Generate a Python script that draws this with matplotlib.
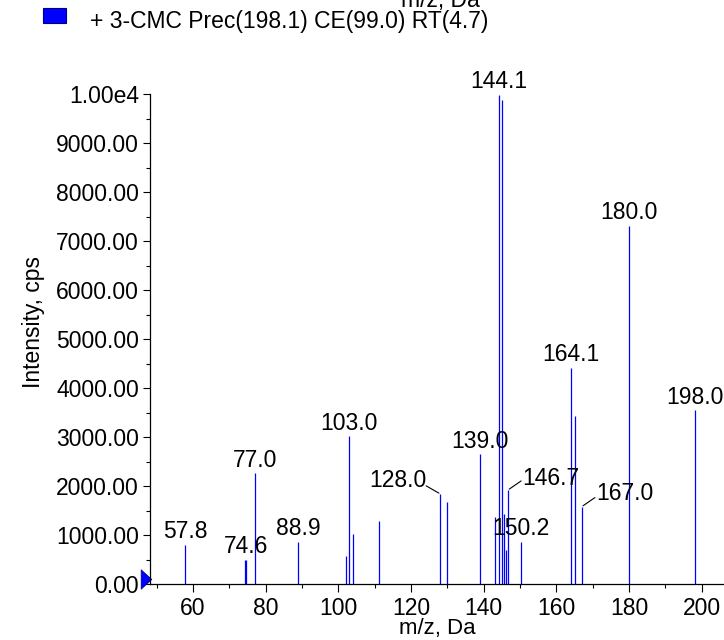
import matplotlib
matplotlib.use("Agg")
import matplotlib.pyplot as plt
from matplotlib.ticker import FixedLocator
from matplotlib.patches import Rectangle
import matplotlib.transforms as mtrans

plt.rcParams['font.family'] = ['Liberation Sans', 'DejaVu Sans']

# peak list (m/z, intensity)
mz = [57.8, 74.3, 74.6, 77.0, 88.9, 102.0, 103.0, 104.0, 111.1, 128.0, 130.0,
      139.0, 143.1, 144.1, 145.1, 145.6, 146.2, 146.7, 150.2, 164.1, 165.1,
      167.0, 180.0, 198.0]
intensity = [800, 490, 500, 2260, 860, 580, 3020, 1020, 1290, 1840, 1670,
             2650, 1370, 9980, 9880, 1430, 690, 1920, 860, 4410, 3420,
             1580, 7310, 3550]

# labelled peaks: m/z, label text
plain_labels = [(57.8, "57.8"), (74.6, "74.6"), (77.0, "77.0"), (88.9, "88.9"),
                (103.0, "103.0"), (139.0, "139.0"), (144.1, "144.1"),
                (150.2, "150.2"), (164.1, "164.1"), (180.0, "180.0"),
                (198.0, "198.0")]
leader_labels = [(128.0, "128.0"), (146.7, "146.7"), (167.0, "167.0")]

yticks = [0, 1000, 2000, 3000, 4000, 5000, 6000, 7000, 8000, 9000, 10000]
ytick_labels = ["0.00", "1000.00", "2000.00", "3000.00", "4000.00", "5000.00",
                "6000.00", "7000.00", "8000.00", "9000.00", "1.00e4"]
yminor = [500, 1500, 2500, 3500, 4500, 5500, 6500, 7500, 8500, 9500]
xticks = [60, 80, 100, 120, 140, 160, 180, 200]
xminor = [50, 70, 90, 110, 130, 150, 170, 190]

legend_text = "+ 3-CMC Prec(198.1) CE(99.0) RT(4.7)"

W, H = 724, 640
fig = plt.figure(figsize=(W / 100, H / 100), dpi=100)
ax = fig.add_axes([150 / W, (H - 584) / H, (W - 150) / W, (584 - 60) / H])

FS = 16.5
ax.vlines(mz, 0, intensity, color='#0000ff', lw=0.9)

ax.set_xlim(48.17, 206.1)
ax.set_ylim(0, 10694)

ax.spines['top'].set_visible(False)
ax.spines['right'].set_visible(False)
ax.spines['left'].set_bounds(0, 10000)
for s in ('left', 'bottom'):
    ax.spines[s].set_linewidth(0.9)

ax.set_yticks(yticks)
ax.set_yticklabels(ytick_labels)
ax.yaxis.set_minor_locator(FixedLocator(yminor))
ax.set_xticks(xticks)
ax.xaxis.set_minor_locator(FixedLocator(xminor))
ax.tick_params(axis='y', which='major', length=5, width=0.8, labelsize=FS, pad=3)
ax.tick_params(axis='x', which='major', length=5.5, width=0.8, labelsize=FS, pad=4)
ax.tick_params(axis='both', which='minor', length=3, width=0.8)

ax.set_xlabel("m/z, Da", fontsize=FS - 0.5, labelpad=-1.5)
ax.set_ylabel("Intensity, cps", fontsize=FS, labelpad=8)

def peak_height(m):
    return intensity[mz.index(m)]

for m, t in plain_labels:
    ax.annotate(t, xy=(m, peak_height(m)), xytext=(0, 13), textcoords='offset pixels',
                ha='center', va='center', fontsize=FS, annotation_clip=False)

leader_offsets = {128.0: ((-42, 13), (-14, 8)),
                  146.7: ((43, 11), (13, 9)),
                  167.0: ((43, 13), (13, 9))}
for m, t in leader_labels:
    (tx, ty), (lx, ly) = leader_offsets[m]
    y = peak_height(m)
    ax.annotate(t, xy=(m, y), xytext=(tx, ty), textcoords='offset pixels',
                ha='center', va='center', fontsize=FS, annotation_clip=False)
    ax.annotate('', xy=(m, y), xytext=(lx, ly), textcoords='offset pixels',
                arrowprops=dict(arrowstyle='-', lw=0.8, color='black',
                                shrinkA=0, shrinkB=1), annotation_clip=False)

# blue triangle marker at the origin of the y axis
trans = mtrans.blended_transform_factory(ax.transAxes, ax.transData)
tri = [(-0.55, -1.0), (0.55, 0.0), (-0.55, 1.0), (-0.55, -1.0)]
ax.plot([-4.5 / 574], [112], marker=tri, markersize=14, color='#0000ff',
        transform=trans, clip_on=False, markeredgecolor='#00007f',
        markeredgewidth=0.5)

# legend
fig.patches.append(Rectangle((43 / W, 1 - 23.3 / H), 23 / W, 15 / H,
                             transform=fig.transFigure, facecolor='#0000ff',
                             edgecolor='#000080', lw=0.8))
fig.text(90 / W, 1 - 28 / H, legend_text, ha='left', va='baseline', fontsize=FS)

# clipped label of a panel above
fig.text(440 / W, 1 - 7 / H, "m/z, Da", ha='center', va='baseline', fontsize=FS)

fig.savefig("out.png", dpi=100)
